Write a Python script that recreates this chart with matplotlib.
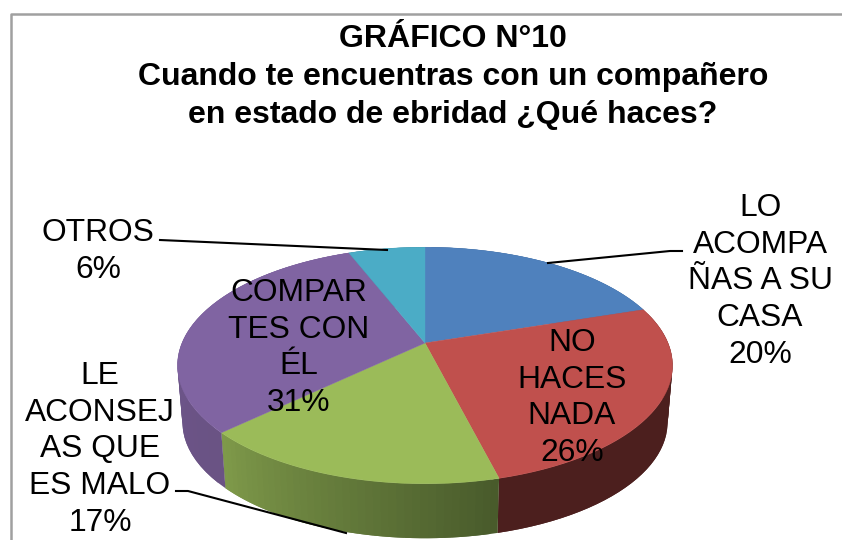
import numpy as np
import matplotlib
matplotlib.use('Agg')
from matplotlib import pyplot as plt
from matplotlib.colors import to_rgb

plt.rcParams['font.family'] = ['Liberation Sans', 'DejaVu Sans']

# slices, clockwise from 12 o'clock
values = [20, 26, 17, 31, 6]
colors = ['#4f81bd', '#c0504d', '#9bbb59', '#8064a2', '#4bacc6']
# side colour at the start and at the end of each slice
side_start = ['#3c6190', '#4c1f1e', '#485a2b', '#6a5384', '#3a8296']
side_end = ['#3c6190', '#4c1f1e', '#7f9a4a', '#6f5690', '#3a8296']

title_lines = ['GRÁFICO N°10', 'Cuando te encuentras con un compañero',
               'en estado de ebridad ¿Qué haces?']
labels = [['LO', 'ACOMPA', 'ÑAS A SU', 'CASA', '20%'],
          ['NO', 'HACES', 'NADA', '26%'],
          ['LE', 'ACONSEJ', 'AS QUE', 'ES MALO', '17%'],
          ['COMPAR', 'TES CON', 'ÉL', '31%'],
          ['OTROS', '6%']]
label_x = [760, 572, 100, 299, 98]
label_y = [208, 343, 376, 293, 233]

# pie placement in pixels
cx, cy = 425, 343
R, S, k = 243, 114, 0.19
depth = 57.3
shrink = 0.98


def project(ang, scale=1.0, dy=0.0):
    # circle seen in perspective, back edge further away
    X = np.sin(ang)
    Y = np.cos(ang)
    w = 1 + k * Y
    return cx + scale * R * X / w, cy + dy - scale * S * Y / w


fig = plt.figure(figsize=(8.42, 5.40), dpi=100)
ax = fig.add_axes([0, 0, 1, 1])
ax.set_xlim(0, 842)
ax.set_ylim(540, 0)
ax.axis('off')

# chart frame
ax.plot([11, 11, 842], [540, 13.5, 13.5], color='#a0a0a0', lw=1.8, zorder=1)

edges = np.radians(np.cumsum([0] + values) * 3.6)

# side wall, small overlapping strips so the shade can change along the slice
for i in range(len(values)):
    angs = np.linspace(edges[i], edges[i + 1], 41)
    c0 = np.array(to_rgb(side_start[i]))
    c1 = np.array(to_rgb(side_end[i]))
    for j in range(40):
        a = angs[j:j + 3]
        x1, y1 = project(a)
        x2, y2 = project(a[::-1], shrink, depth)
        col = c0 + (c1 - c0) * (j + 0.5) / 40
        ax.fill(np.r_[x1, x2], np.r_[y1, y2], color=col, lw=0, zorder=2)

# top of the pie
for i in range(len(values)):
    a = np.linspace(edges[i], edges[i + 1], 80)
    x, y = project(a)
    ax.fill(np.r_[cx, x], np.r_[cy, y], color=colors[i], lw=0.3, zorder=3)

# leader lines
ax.plot([160, 387], [240, 250], color='black', lw=1.5, zorder=4)
ax.plot([548, 670, 682], [263, 251, 251], color='black', lw=1.5, zorder=4)
ax.plot([176, 188, 346], [491, 491, 533], color='black', lw=1.5, zorder=4)

# labels, one text per line to keep the original breaks
for i in range(len(labels)):
    for n, line in enumerate(labels[i]):
        ax.text(label_x[i], label_y[i] + n * 36.7, line, fontsize=22.9,
                ha='center', va='center', color='black', zorder=5)

title_y = [39, 77, 115]
for line, y in zip(title_lines, title_y):
    ax.text(453, y, line, fontsize=23, fontweight='bold', ha='center',
            va='center', color='black', zorder=5)

fig.savefig('out.png', dpi=100)
